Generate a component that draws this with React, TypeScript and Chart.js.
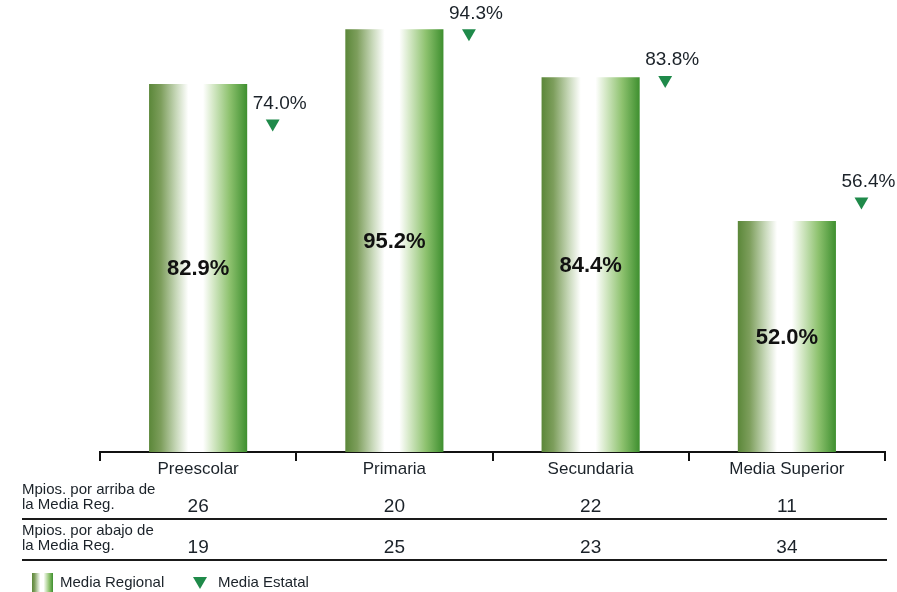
import React, { useEffect, useRef } from "react";
import { Chart, registerables } from "chart.js";

Chart.register(...registerables);

const categories = ["Preescolar", "Primaria", "Secundaria", "Media Superior"];
const mediaRegional = [82.9, 95.2, 84.4, 52.0];
const mediaEstatal = [74.0, 94.3, 83.8, 56.4];
const mpiosArriba = [26, 20, 22, 11];
const mpiosAbajo = [19, 25, 23, 34];
const rowLabelsArriba = ["Mpios. por arriba de", "la Media Reg."];
const rowLabelsAbajo = ["Mpios. por abajo de", "la Media Reg."];
const legendLabels = ["Media Regional", "Media Estatal"];

const FONT = "'Liberation Sans', Arial, Helvetica, sans-serif";
const TEXT = "#1b2229";
const TRI_COLOR = "#1f8a4a";
const TRI_SHIFT = 0.38;

function makeBarGradient(ctx: CanvasRenderingContext2D, left: number, right: number) {
  const g = ctx.createLinearGradient(left, 0, right, 0);
  g.addColorStop(0, "#5b8739");
  g.addColorStop(0.12, "#7d9e5c");
  g.addColorStop(0.28, "#c9d9bb");
  g.addColorStop(0.4, "#ffffff");
  g.addColorStop(0.55, "#ffffff");
  g.addColorStop(0.65, "#d6e9c8");
  g.addColorStop(0.82, "#8ec26f");
  g.addColorStop(1, "#3e8f2f");
  return g;
}

function drawTriangle(ctx: CanvasRenderingContext2D, cx: number, cy: number, w: number, h: number) {
  ctx.beginPath();
  ctx.moveTo(cx - w / 2, cy - h / 2);
  ctx.lineTo(cx + w / 2, cy - h / 2);
  ctx.lineTo(cx, cy + h / 2);
  ctx.closePath();
  ctx.fillStyle = TRI_COLOR;
  ctx.fill();
}

const overlayPlugin = {
  id: "overlay",
  afterDraw(chart: any) {
    const ctx: CanvasRenderingContext2D = chart.ctx;
    const xs = chart.scales.x;
    const area = chart.chartArea;
    const b = area.bottom;
    ctx.save();

    // Bar value labels
    const barMeta = chart.getDatasetMeta(0);
    ctx.font = `bold 22px ${FONT}`;
    ctx.fillStyle = "#111111";
    ctx.textAlign = "center";
    ctx.textBaseline = "middle";
    barMeta.data.forEach((el: any, i: number) => {
      ctx.fillText(mediaRegional[i].toFixed(1) + "%", el.x, (el.y + el.base) / 2 + 1);
    });

    // Triangle labels
    const triMeta = chart.getDatasetMeta(1);
    ctx.font = `19px ${FONT}`;
    ctx.fillStyle = TEXT;
    triMeta.data.forEach((el: any, i: number) => {
      ctx.fillText(mediaEstatal[i].toFixed(1) + "%", el.x + 7, el.y - 20);
    });

    // Category labels
    ctx.font = `17px ${FONT}`;
    categories.forEach((c, i) => {
      ctx.fillText(c, xs.getPixelForValue(i), b + 17);
    });

    // Table rows
    const tableLeft = 22;
    const tableRight = 887;
    const rows = [
      { labels: rowLabelsArriba, values: mpiosArriba, top: b + 38 },
      { labels: rowLabelsAbajo, values: mpiosAbajo, top: b + 79 },
    ];
    rows.forEach((row) => {
      ctx.font = `15px ${FONT}`;
      ctx.textAlign = "left";
      ctx.fillStyle = TEXT;
      row.labels.forEach((l, k) => ctx.fillText(l, tableLeft, row.top + k * 15));
      ctx.font = `19px ${FONT}`;
      ctx.textAlign = "center";
      row.values.forEach((v, i) => ctx.fillText(String(v), xs.getPixelForValue(i), row.top + 17));
      ctx.beginPath();
      ctx.moveTo(tableLeft, row.top + 29);
      ctx.lineTo(tableRight, row.top + 29);
      ctx.lineWidth = 2;
      ctx.strokeStyle = "#1a1a1a";
      ctx.stroke();
    });

    // Legend
    const ly = b + 131;
    ctx.fillStyle = makeBarGradient(ctx, 32, 53);
    ctx.fillRect(32, ly - 10, 21, 22);
    ctx.font = `15px ${FONT}`;
    ctx.textAlign = "left";
    ctx.fillStyle = TEXT;
    ctx.fillText(legendLabels[0], 60, ly);
    drawTriangle(ctx, 200, ly, 14, 12);
    ctx.fillStyle = TEXT;
    ctx.fillText(legendLabels[1], 218, ly);

    ctx.restore();
  },
};

export default function App() {
  const ref = useRef<HTMLCanvasElement>(null);

  useEffect(() => {
    if (!ref.current) return;
    const chart = new Chart(ref.current, {
      type: "bar",
      data: {
        labels: categories,
        datasets: [
          {
            type: "bar",
            label: legendLabels[0],
            data: mediaRegional,
            grouped: false,
            backgroundColor: (c: any) => {
              const chart = c.chart;
              const xs = chart.scales && chart.scales.x;
              if (!xs || c.dataIndex === undefined) return "#5b8739";
              const cx = xs.getPixelForValue(c.dataIndex);
              const half = (xs.width / categories.length) * 0.5 * 0.5;
              if (!isFinite(cx) || !isFinite(half) || half <= 0) return "#5b8739";
              return makeBarGradient(chart.ctx, cx - half, cx + half);
            },
            borderWidth: 0,
            categoryPercentage: 1,
            barPercentage: 0.5,
            xAxisID: "x",
            order: 2,
          } as any,
          {
            type: "scatter",
            label: legendLabels[1],
            data: mediaEstatal.map((v, i) => ({ x: i + TRI_SHIFT, y: v })),
            xAxisID: "x2",
            pointStyle: "triangle",
            rotation: 180,
            radius: 8,
            backgroundColor: TRI_COLOR,
            borderWidth: 0,
            order: 1,
          } as any,
        ],
      },
      options: {
        responsive: false,
        animation: false,
        layout: { padding: { left: 100, right: 12, top: 8, bottom: 131 } },
        plugins: {
          legend: { display: false },
          tooltip: { enabled: false },
        },
        scales: {
          x: {
            type: "category",
            offset: true,
            grid: {
              display: true,
              drawOnChartArea: false,
              drawTicks: true,
              tickLength: 9,
              color: "#111111",
              lineWidth: 2,
              offset: true,
            },
            border: { display: true, color: "#111111", width: 2 },
            ticks: { display: false },
          },
          x2: {
            type: "linear",
            display: false,
            offset: false,
            grid: { offset: false },
            min: -0.5,
            max: 3.5,
          },
          y: {
            display: false,
            min: 0,
            max: 100,
          },
        },
      },
      plugins: [overlayPlugin],
    });
    return () => chart.destroy();
  }, []);

  return (
    <div style={{ position: "absolute", left: 0, top: 0, width: 897, height: 592, background: "#ffffff" }}>
      <canvas ref={ref} width={897} height={592} />
    </div>
  );
}
